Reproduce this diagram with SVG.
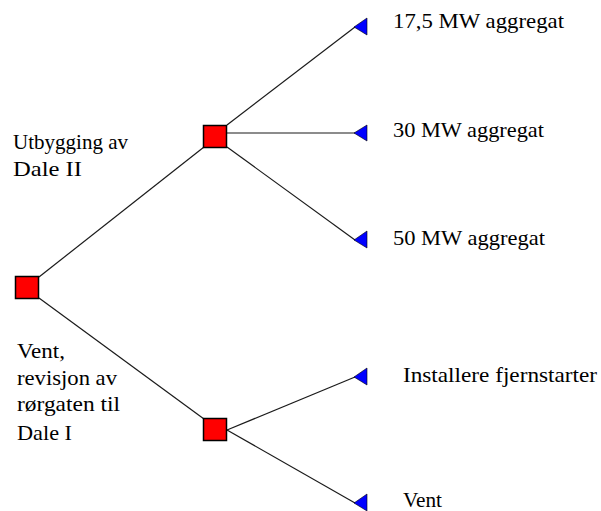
<svg xmlns="http://www.w3.org/2000/svg" width="601" height="511" viewBox="0 0 601 511">
<style>
.n{fill:#ff0000;stroke:#000;stroke-width:1.5}
.c line{stroke:#1a1a1a;stroke-width:1.2}
.a{fill:#0000ff;stroke:#000;stroke-width:0.6}
text{font-size:21px;fill:#000}
</style>
<rect width="601" height="511" fill="#fff"/>
<g id="connectors" class="c">
<line x1="39" y1="277" x2="204" y2="147"/>
<line x1="39" y1="298" x2="204" y2="419"/>
<line x1="227" y1="125" x2="355" y2="27"/>
<line x1="227" y1="133" x2="355" y2="133"/>
<line x1="227" y1="147" x2="355" y2="240"/>
<line x1="227" y1="430" x2="355" y2="377"/>
<line x1="227" y1="430" x2="355" y2="503"/>
<polygon class="a" points="354,27 367,18 367,35"/>
<polygon class="a" points="354,133 367,125 367,141"/>
<polygon class="a" points="354,240 367,231 367,248"/>
<polygon class="a" points="354,377 367,368 367,385"/>
<polygon class="a" points="354,503 367,494 367,511"/>
</g>
<g font-family="Liberation Serif, DejaVu Serif, serif">
<g id="root"><rect class="n" x="15.5" y="276.5" width="23" height="22"/></g>
<g id="build"><rect class="n" x="203.5" y="125.5" width="23" height="22"/>
<text x="13" y="149" textLength="115" lengthAdjust="spacingAndGlyphs">Utbygging av</text>
<text x="13" y="176" textLength="69" lengthAdjust="spacingAndGlyphs">Dale II</text></g>
<g id="wait"><rect class="n" x="203.5" y="418.5" width="23" height="22"/>
<text x="17" y="358" textLength="48" lengthAdjust="spacingAndGlyphs">Vent,</text>
<text x="17" y="385" textLength="100" lengthAdjust="spacingAndGlyphs">revisjon av</text>
<text x="17" y="411" textLength="103" lengthAdjust="spacingAndGlyphs">rørgaten til</text>
<text x="17" y="440" textLength="55" lengthAdjust="spacingAndGlyphs">Dale I</text></g>
<g id="o175"><text x="393" y="28" textLength="171" lengthAdjust="spacingAndGlyphs">17,5 MW aggregat</text></g>
<g id="o30"><text x="393" y="137" textLength="151" lengthAdjust="spacingAndGlyphs">30 MW aggregat</text></g>
<g id="o50"><text x="393" y="245" textLength="152" lengthAdjust="spacingAndGlyphs">50 MW aggregat</text></g>
<g id="oinst"><text x="403" y="382" textLength="194" lengthAdjust="spacingAndGlyphs">Installere fjernstarter</text></g>
<g id="overt"><text x="403" y="507" textLength="39" lengthAdjust="spacingAndGlyphs">Vent</text></g>
</g>
</svg>
